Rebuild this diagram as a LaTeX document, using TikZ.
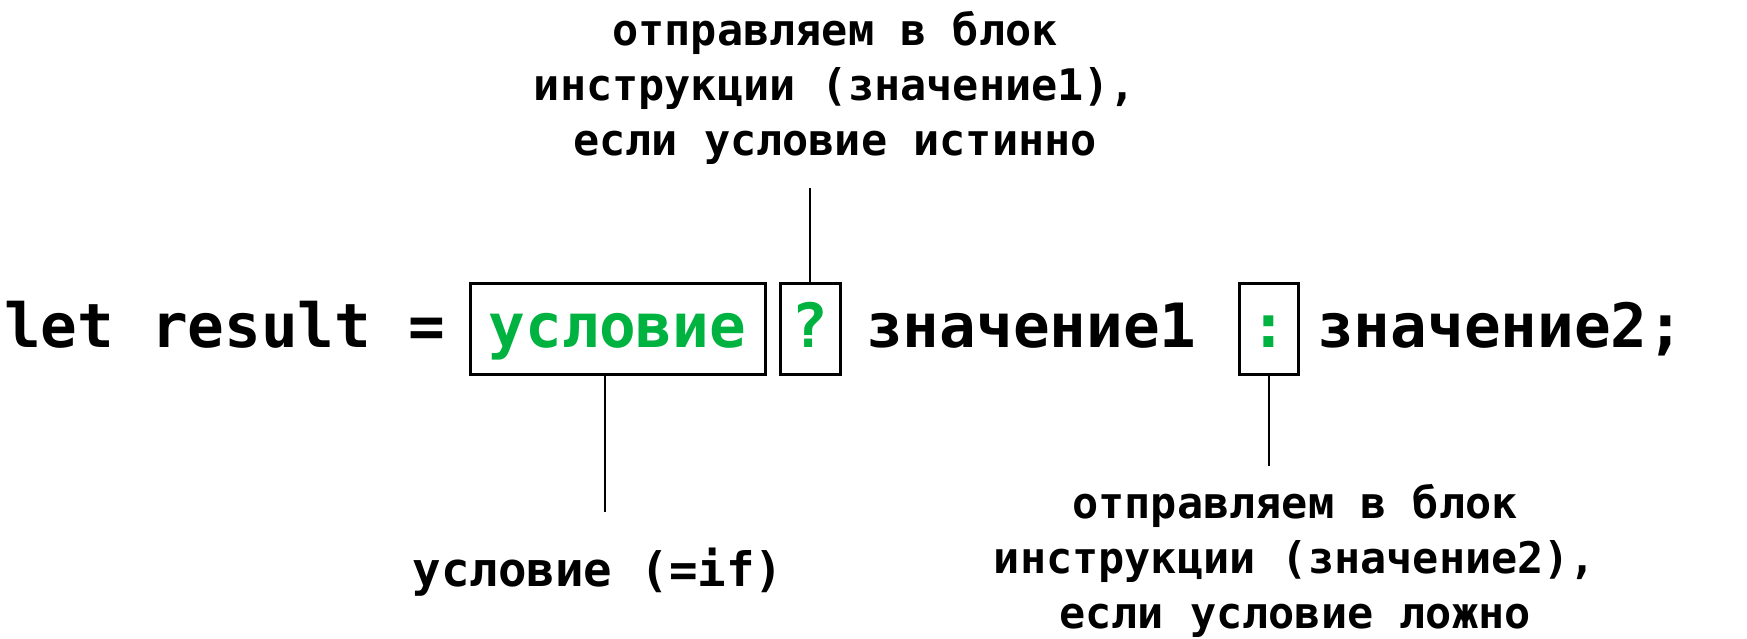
\documentclass[tikz,border=0pt]{standalone}
\usepackage{fontspec}
\setmonofont{DejaVu Sans Mono}
\definecolor{condgreen}{RGB}{0,178,64}
\begin{document}
\begin{tikzpicture}[x=1pt,y=-1pt,
  codetext/.style={inner sep=0pt, font=\fontsize{61}{70}\selectfont\ttfamily\bfseries},
  codebox/.style={draw, line width=3pt, minimum height=91pt, inner sep=0pt,
    text height=37pt, text depth=0pt, text=condgreen,
    font=\fontsize{61}{70}\selectfont\ttfamily\bfseries},
  labtext/.style={inner sep=0pt, align=center, font=\fontsize{43.5}{55}\selectfont\ttfamily\bfseries},
  condlab/.style={inner sep=0pt, font=\fontsize{47.4}{56}\selectfont\ttfamily\bfseries},
  conn/.style={line width=2pt}]
\useasboundingbox (0,0) rectangle (1747,638);

\node[codetext, anchor=base west] (letres) at (4,347) {let result =};
\node[codebox, minimum width=295pt] (cond) at (617.5,328.5) {условие};
\node[codebox, minimum width=60pt] (qm) at (810,328.5) {?};
\node[codetext, anchor=base west] (val1) at (866,347) {значение1};
\node[codebox, minimum width=59pt] (colon) at (1268.5,328.5) {:};
\node[codetext, anchor=base west] (val2) at (1317,347) {значение2;};

\node[labtext, anchor=base] (toplab) at (835,155) {отправляем в блок\\инструкции (значение1),\\если условие истинно};
\node[condlab, anchor=base] (condlab) at (598,586) {условие (=if)};
\node[labtext, anchor=base] (rightlab) at (1295,628) {отправляем в блок\\инструкции (значение2),\\если условие ложно};

\coordinate (topend) at (810,188);
\coordinate (leftend) at (605,512);
\coordinate (rightend) at (1268.5,466);

\draw[conn] (qm.north) -- (topend);
\draw[conn] (cond.south -| leftend) -- (leftend);
\draw[conn] (colon.south) -- (rightend);
\end{tikzpicture}
\end{document}
